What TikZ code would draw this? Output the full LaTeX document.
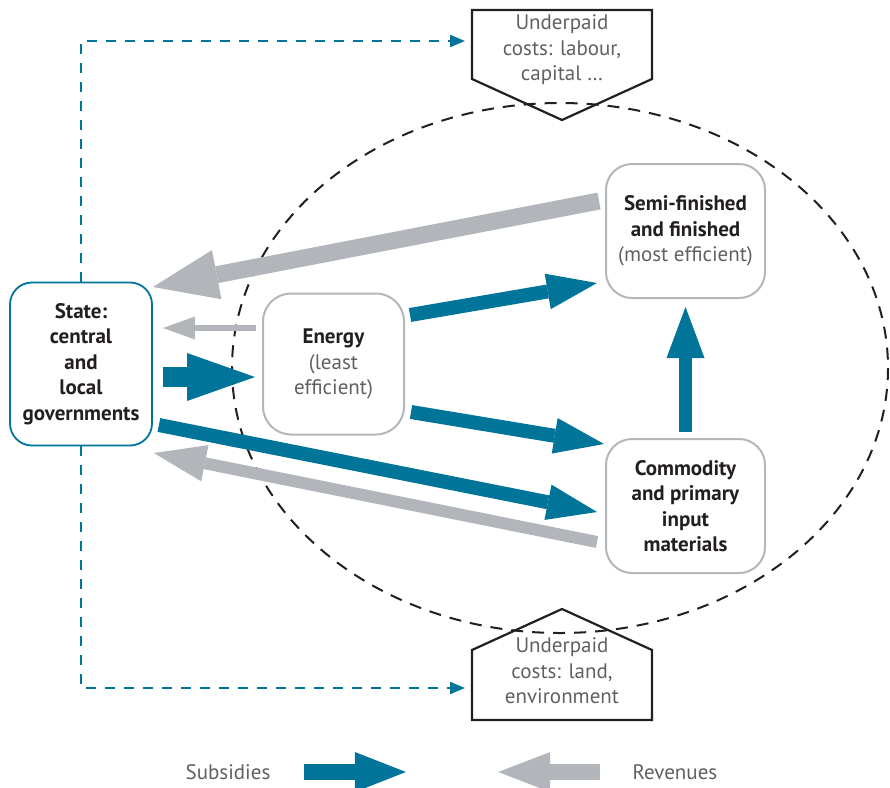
\documentclass[tikz,border=0pt]{standalone}
\usepackage{fontspec}
\setmainfont{PT Sans}
\usetikzlibrary{arrows.meta,calc}
\definecolor{subteal}{RGB}{0,117,153}
\definecolor{revgray}{RGB}{178,182,186}
\definecolor{boxgray}{RGB}{180,183,186}
\definecolor{txtgray}{RGB}{95,96,98}
\definecolor{txtdark}{RGB}{35,31,32}
\newcommand{\diagfont}{\fontsize{21}{25.5}\selectfont}

\begin{document}
\begin{tikzpicture}[x=1pt,y=-1pt,
  state node/.style={draw=subteal,line width=1.8pt,rounded corners=22pt,minimum width=142pt,minimum height=163pt,align=center,text=txtdark,font=\diagfont\bfseries},
  sector node/.style={draw=boxgray,line width=2pt,rounded corners=26pt,minimum width=159pt,minimum height=134pt,align=center,text=txtdark,font=\diagfont},
  cost node/.style={align=center,text=txtgray,font=\diagfont,inner sep=0pt},
  cost outline/.style={draw=txtdark,line width=2.2pt},
  cost link/.style={draw=subteal,line width=2pt,dash pattern=on 10pt off 9pt,-{Triangle[length=15pt,width=12pt]}},
  note/.style={text=txtgray,font=\diagfont},
  subsidy/.style={draw=subteal,line width=#1},
  revenue/.style={draw=revgray,line width=#1},
  blockhead/.style 2 args={-{Triangle[length=#1pt,width=#2pt,line width=0pt]}}]
\useasboundingbox (0,0) rectangle (890,787);
% sectors
\draw[txtdark,line width=2pt,dash pattern=on 12pt off 9pt] (560,368) ellipse [x radius=328, y radius=265];
\node[state node] (state) at (81,364) {State:\\central\\and\\local\\governments};
\node[sector node,minimum width=141pt,minimum height=141pt,rounded corners=28pt] (energy) at (333.5,364) {\textbf{Energy}\\{\color{txtgray}(least}\\{\color{txtgray}efficient)}};
\node[sector node] (semi) at (685.5,231) {\textbf{Semi-finished}\\\textbf{and finished}\\{\color{txtgray}(most efficient)}};
\node[sector node] (commodity) at (685.5,506) {\textbf{Commodity}\\\textbf{and primary}\\\textbf{input}\\\textbf{materials}};
% underpaid costs
\node[cost node] (labour) at (562,50) {Underpaid\\costs: labour,\\capital …};
\node[cost node] (env) at (562,671) {Underpaid\\costs: land,\\environment};
\draw[cost outline] ($(labour)+(-90,-40)$) -- ($(labour)+(90,-40)$) -- ($(labour)+(90,29)$) -- ($(labour)+(0,70)$) -- ($(labour)+(-90,29)$) -- cycle;
\draw[cost outline] ($(env)+(-90,-21)$) -- ($(env)+(0,-62)$) -- ($(env)+(90,-21)$) -- ($(env)+(90,49)$) -- ($(env)+(-90,49)$) -- cycle;
\coordinate (labourin) at ($(labour)+(-97,-9)$);
\coordinate (envin) at ($(env)+(-97,17)$);
\draw[cost link] (state.north) |- (labourin);
\draw[cost link] (state.south) |- (envin);
% revenues
\begin{scope}[every edge/.style={revenue=12}]
\draw ($(semi.west)+(-6,-30)$) edge[revenue=17,blockhead={65}{50}] ($(state.east)+(0,-77)$);
\draw ($(energy.west)+(-6,-36)$) edge[revenue=6,blockhead={32}{23}] ($(state.east)+(10,-36)$);
\draw ($(commodity.west)+(-8,36)$) edge[blockhead={52}{37}] ($(state.east)+(1,89)$);
\end{scope}
% subsidies
\begin{scope}[every edge/.style={subsidy=14}]
\draw ($(state.east)+(10,13)$) edge[subsidy=20,blockhead={68}{48}] ($(energy.west)+(-7,13)$);
\draw ($(energy.east)+(5,-49)$) edge[blockhead={50}{36}] ($(semi.west)+(-8,52)$);
\draw ($(energy.east)+(6,48)$) edge[blockhead={50}{36}] ($(commodity.west)+(-1,-62)$);
\draw ($(state.east)+(6,61)$) edge[blockhead={50}{36}] ($(commodity.west)+(-8,6)$);
\draw ($(commodity.north)+(0,-6)$) edge[subsidy=13,blockhead={51}{38}] ($(semi.south)+(0,8)$);
\end{scope}
% legend
\node[note] (subs) at (228,772) {Subsidies};
\node[note] (revs) at (675,772) {Revenues};
\draw[subsidy=16,blockhead={51}{40}] ($(subs.east)+(30,0)$) -- ($(subs.east)+(132,0)$);
\draw[revenue=16,blockhead={52}{40}] ($(revs.west)+(-29,0)$) -- ($(revs.west)+(-131,0)$);
\end{tikzpicture}
\end{document}
